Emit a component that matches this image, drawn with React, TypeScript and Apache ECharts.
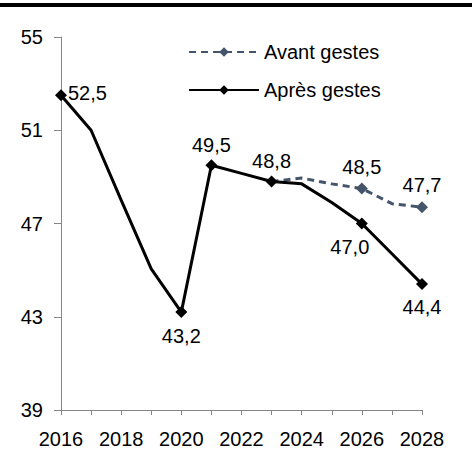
import React, { useEffect, useRef } from "react";
import * as echarts from "echarts";

const years = ["2016","2017","2018","2019","2020","2021","2022","2023","2024","2025","2026","2027","2028"];
const apres = [52.5, 51.0, 48.0, 45.05, 43.2, 49.5, 49.15, 48.8, 48.7, 47.9, 47.0, 45.7, 44.4];
const avant = [null, null, null, null, null, null, null, 48.8, 48.95, 48.7, 48.5, 47.85, 47.7];
const apresMarked = [0, 4, 5, 7, 10, 12];
const avantMarked = [10, 12];
const yTicks = [39, 43, 47, 51, 55];

export default function App() {
  const ref = useRef<HTMLDivElement>(null);
  useEffect(() => {
    const chart = echarts.init(ref.current!, null, { renderer: "svg" });
    const font = "'Liberation Sans', Arial, sans-serif";
    const fs = 20;
    const fmt = (v: number) => v.toFixed(1).replace(".", ",");
    const apresLabelPos: Record<number, any> = {
      0: { position: "right", offset: [-4, -2] },
      4: { position: "bottom", offset: [0, 3] },
      5: { position: "top", offset: [0, 1] },
      7: { position: "top", offset: [0, 0] },
      10: { position: "bottom", offset: [-12, 2] },
      12: { position: "bottom", offset: [0, 2] },
    };
    const apresData = apres.map((v, i) => {
      const marked = apresMarked.includes(i);
      return {
        value: v,
        symbol: marked ? "diamond" : "none",
        label: marked
          ? { show: true, formatter: fmt(v), ...apresLabelPos[i] }
          : { show: false },
      };
    });
    const avantData = avant.map((v, i) => {
      if (v === null) return "-";
      const marked = avantMarked.includes(i);
      return {
        value: v,
        symbol: marked ? "diamond" : "none",
        label: marked ? { show: true, formatter: fmt(v), position: "top", offset: [0, -1] } : { show: false },
      };
    });
    chart.setOption({
      animation: false,
      textStyle: { fontFamily: font },
      grid: { left: 61, right: 50, top: 37, bottom: 48 },
      graphic: [
        { type: "rect", left: 0, top: 3, shape: { width: 472, height: 4 }, style: { fill: "#000" } },
      ],
      legend: {
        orient: "vertical",
        left: 183,
        top: 37,
        itemWidth: 70,
        itemHeight: 12,
        itemGap: 18,
        textStyle: { fontSize: fs, color: "#000", fontFamily: font },
        data: ["Avant gestes", "Après gestes"],
      },
      xAxis: {
        type: "category",
        data: years,
        boundaryGap: false,
        axisLine: { lineStyle: { color: "#868686", width: 1 } },
        axisTick: { show: true, interval: 0, length: 5, lineStyle: { color: "#868686" } },
        axisLabel: { interval: 1, fontSize: fs, color: "#000", margin: 19, fontFamily: font },
        splitLine: { show: false },
      },
      yAxis: {
        type: "value",
        min: 39,
        max: 55,
        interval: 4,
        axisLine: { show: true, lineStyle: { color: "#868686", width: 1 } },
        axisTick: { show: true, length: 7, lineStyle: { color: "#868686" } },
        axisLabel: {
          fontSize: fs,
          color: "#000",
          margin: 18,
          fontFamily: font,
          formatter: (v: number) => (yTicks.includes(v) ? String(v) : ""),
        },
        splitLine: { show: false },
      },
      series: [
        {
          name: "Avant gestes",
          type: "line",
          data: avantData,
          symbol: "diamond",
          symbolSize: 12,
          itemStyle: { color: "#44546A" },
          lineStyle: { color: "#44546A", width: 3, type: [7, 5] },
          label: { fontSize: fs, color: "#000", fontFamily: font },
          z: 2,
        },
        {
          name: "Après gestes",
          type: "line",
          data: apresData,
          symbol: "diamond",
          symbolSize: 12,
          itemStyle: { color: "#000" },
          lineStyle: { color: "#000", width: 3 },
          label: { fontSize: fs, color: "#000", fontFamily: font },
          z: 3,
        },
      ],
    });
    return () => chart.dispose();
  }, []);
  return (
    <div
      ref={ref}
      style={{ position: "fixed", left: 0, top: 0, width: 472, height: 458, background: "#fff" }}
    />
  );
}
